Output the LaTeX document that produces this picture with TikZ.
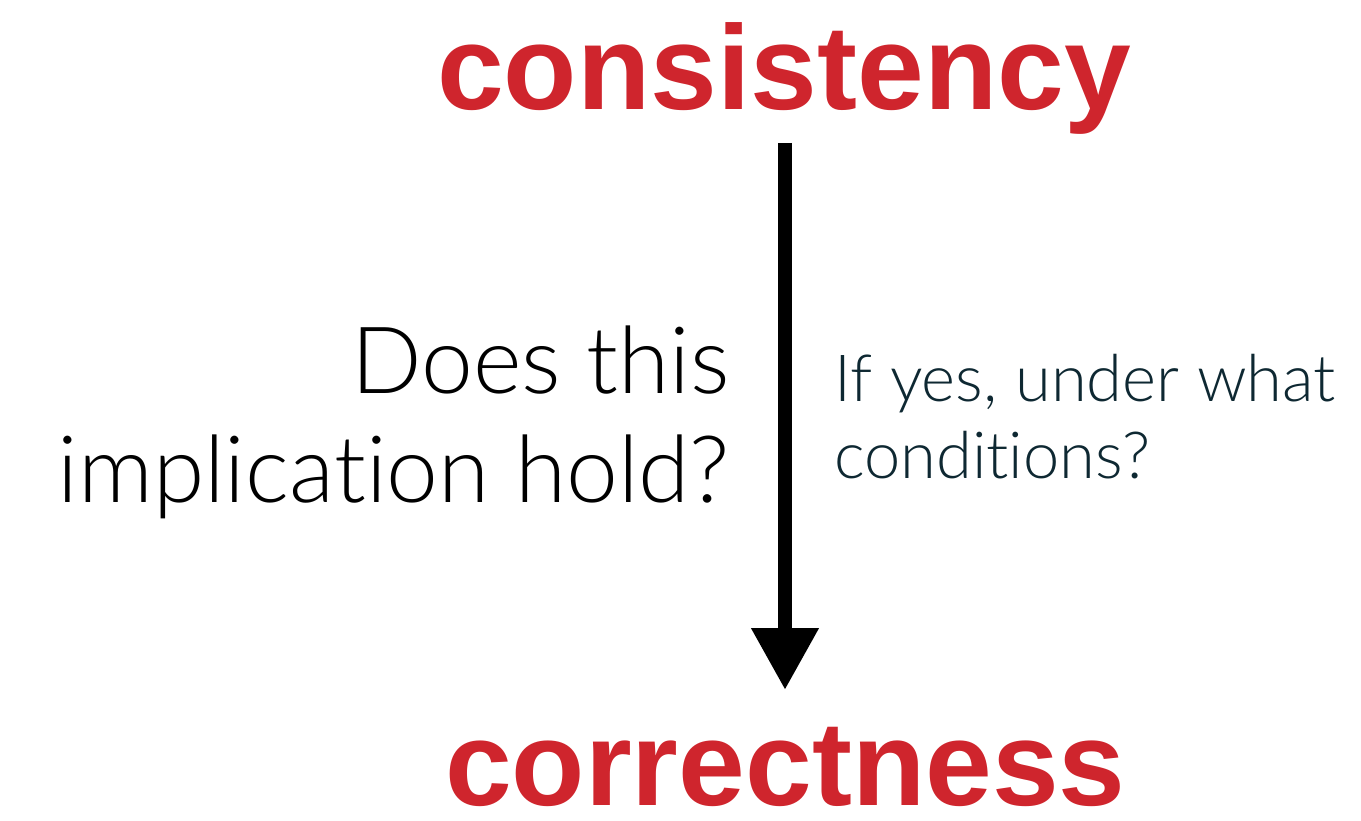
\documentclass[tikz,border=0pt]{standalone}
\usepackage{fontspec}
\usetikzlibrary{arrows.meta}
\setmainfont{Liberation Sans}
\IfFontExistsTF{Lato Light}{\newfontfamily\lightf{Lato Light}[Ligatures=NoCommon]}{\newfontfamily\lightf{Liberation Sans}}
\newfontfamily\boldf{Liberation Sans}[UprightFont=*-Bold]
\definecolor{cred}{RGB}{207,37,45}
\definecolor{cdark}{RGB}{14,40,50}
\tikzset{
  big/.style={font=\boldf\fontsize{120}{120}\selectfont, text=cred, inner sep=0pt, anchor=base west},
  question/.style={font=\lightf\fontsize{93}{93}\selectfont, text=black, inner sep=0pt, anchor=base east},
  remark/.style={font=\lightf\fontsize{65}{65}\selectfont, text=cdark, inner sep=0pt, anchor=base west},
  implies/.style={line width=14pt, -{Triangle[width=64pt,length=62pt]}}
}
\begin{document}
\begin{tikzpicture}[x=1pt,y=-1pt]
\useasboundingbox (0,0) rectangle (1361,821);
\node[big] (cons) at (437,110) {consistency};
\node[big, text depth=0pt] (corr) at (445,805) {correctness};
\coordinate (atop) at (785,143);
\coordinate (abot) at (785,690);
\draw[implies] (atop) -- (abot);
\node[question] (q1) at (730,393) {Does this};
\node[question] (q2) at (730,502) {implication hold?};
\node[remark] (r1) at (834,401) {If yes, under what};
\node[remark] (r2) at (834,478) {conditions?};
\end{tikzpicture}
\end{document}
